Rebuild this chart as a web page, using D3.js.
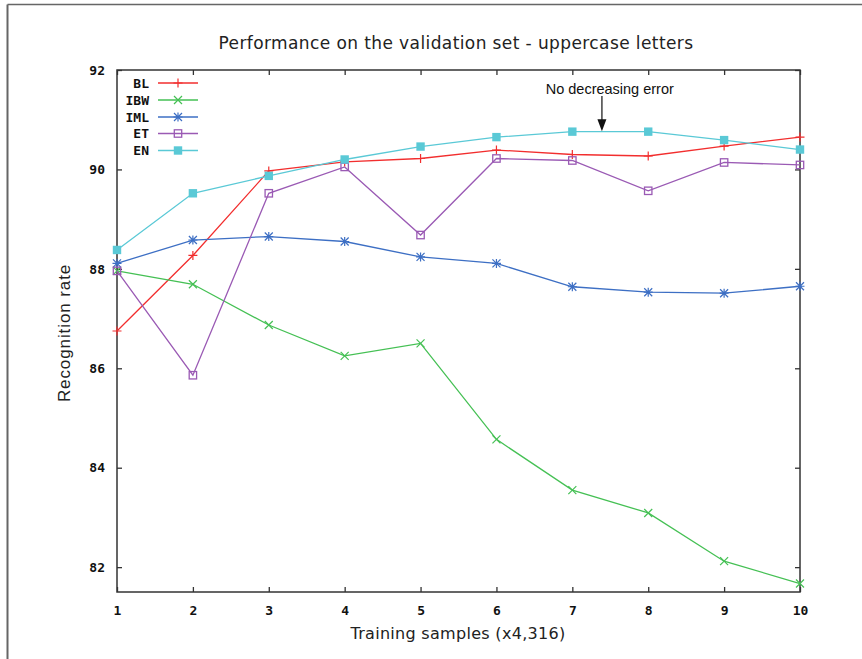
<!DOCTYPE html>
<html>
<head>
<meta charset="utf-8">
<script src="https://cdn.jsdelivr.net/npm/d3@7"></script>
<style>
  html, body { margin: 0; padding: 0; background: #fff; }
  svg { display: block; }
</style>
</head>
<body>
<div id="chart"></div>
<script>
// ---- data ----
const xValues = [1, 2, 3, 4, 5, 6, 7, 8, 9, 10];
const BL  = [86.75, 88.27, 89.97, 90.15, 90.22, 90.39, 90.30, 90.27, 90.47, 90.65];
const IBW = [87.96, 87.69, 86.87, 86.25, 86.50, 84.57, 83.55, 83.09, 82.12, 81.67];
const IML = [88.11, 88.58, 88.65, 88.55, 88.24, 88.11, 87.64, 87.53, 87.51, 87.65];
const ET  = [87.96, 85.86, 89.52, 90.05, 88.68, 90.22, 90.18, 89.57, 90.14, 90.09];
const EN  = [88.38, 89.52, 89.87, 90.20, 90.46, 90.65, 90.76, 90.76, 90.59, 90.40];
const seriesNames = ["BL", "IBW", "IML", "ET", "EN"];
const yTicks = [82, 84, 86, 88, 90, 92];
const xTicks = [1, 2, 3, 4, 5, 6, 7, 8, 9, 10];
const titleText = "Performance on the validation set - uppercase letters";
const xLabel = "Training samples (x4,316)";
const yLabel = "Recognition rate";
const noteText = "No decreasing error";
const notePoint = [7.39, 90.77];

// ---- layout ----
const W = 862, H = 659;
const M = { left: 117, right: 800, top: 70, bottom: 592 };
const colors = { BL: "#f22e2e", IBW: "#45c054", IML: "#3d6fc4", ET: "#9a5ab4", EN: "#5ac9d6" };
const markers = { BL: "plus", IBW: "cross", IML: "star", ET: "square", EN: "fsquare" };
const dataMap = { BL, IBW, IML, ET, EN };

const svg = d3.select("#chart").append("svg").attr("width", W).attr("height", H);

// outer frame (partial, as in the reference screenshot)
svg.append("line").attr("x1", 7.5).attr("x2", W).attr("y1", 4.5).attr("y2", 4.5)
  .attr("stroke", "#666").attr("stroke-width", 1.5);
svg.append("line").attr("x1", 7.5).attr("x2", 7.5).attr("y1", 4.5).attr("y2", H)
  .attr("stroke", "#666").attr("stroke-width", 2);

const x = d3.scaleLinear().domain([1, 10]).range([M.left, M.right]);
const y = d3.scaleLinear().domain([81.5, 92]).range([M.bottom, M.top]);

const axisColor = "#333";
const tickFont = "'DejaVu Sans Mono', monospace";

// axes with inward ticks
const gx = svg.append("g").attr("transform", `translate(0,${M.bottom})`)
  .call(d3.axisBottom(x).tickValues(xTicks).tickSize(-5).tickPadding(14).tickFormat(d3.format("d")));
const gxt = svg.append("g").attr("transform", `translate(0,${M.top})`)
  .call(d3.axisTop(x).tickValues(xTicks).tickSize(-5).tickFormat(""));
const gy = svg.append("g").attr("transform", `translate(${M.left},0)`)
  .call(d3.axisLeft(y).tickValues(yTicks).tickSize(-5).tickPadding(12).tickFormat(d3.format("d")));
const gyr = svg.append("g").attr("transform", `translate(${M.right},0)`)
  .call(d3.axisRight(y).tickValues(yTicks).tickSize(-5).tickFormat(""));

[gx, gxt, gy, gyr].forEach(g => {
  g.select(".domain").remove();
  g.selectAll(".tick line").attr("stroke", axisColor).attr("stroke-width", 1.3);
  g.selectAll(".tick text").attr("fill", "#111")
    .style("font-family", tickFont).style("font-weight", "bold").style("font-size", "13px");
});

// plot border
svg.append("rect").attr("x", M.left).attr("y", M.top)
  .attr("width", M.right - M.left).attr("height", M.bottom - M.top)
  .attr("fill", "none").attr("stroke", axisColor).attr("stroke-width", 1.5);

// marker drawing
function drawMarker(g, type, cx, cy, color) {
  const s = 4.5;
  if (type === "plus" || type === "star") {
    g.append("path").attr("d", `M${cx - s},${cy}H${cx + s}M${cx},${cy - s}V${cy + s}`)
      .attr("stroke", color).attr("stroke-width", 1.2).attr("fill", "none");
  }
  if (type === "cross" || type === "star") {
    const c = 4;
    g.append("path").attr("d", `M${cx - c},${cy - c}L${cx + c},${cy + c}M${cx - c},${cy + c}L${cx + c},${cy - c}`)
      .attr("stroke", color).attr("stroke-width", 1.2).attr("fill", "none");
  }
  if (type === "star") {
    g.append("circle").attr("cx", cx).attr("cy", cy).attr("r", 1.6).attr("fill", color);
  }
  if (type === "square") {
    g.append("rect").attr("x", cx - 3.7).attr("y", cy - 3.7).attr("width", 7.4).attr("height", 7.4)
      .attr("fill", "none").attr("stroke", color).attr("stroke-width", 1.3);
  }
  if (type === "fsquare") {
    g.append("rect").attr("x", cx - 4.2).attr("y", cy - 4.2).attr("width", 8.4).attr("height", 8.4)
      .attr("fill", color);
  }
}

const line = d3.line().x((d, i) => x(xValues[i])).y(d => y(d));

seriesNames.forEach(name => {
  const g = svg.append("g");
  g.append("path").datum(dataMap[name]).attr("d", line)
    .attr("fill", "none").attr("stroke", colors[name]).attr("stroke-width", 1.3);
  dataMap[name].forEach((v, i) => drawMarker(g, markers[name], x(xValues[i]), y(v), colors[name]));
});

// legend
const legRowY = [83, 100, 117, 133.5, 150.5];
seriesNames.forEach((name, i) => {
  const ly = legRowY[i];
  svg.append("text").attr("x", 149).attr("y", ly).attr("dy", "0.36em")
    .attr("text-anchor", "end").attr("fill", "#111")
    .style("font-family", tickFont).style("font-weight", "bold").style("font-size", "13px")
    .text(name);
  svg.append("line").attr("x1", 158).attr("x2", 198).attr("y1", ly).attr("y2", ly)
    .attr("stroke", colors[name]).attr("stroke-width", 1.3);
  drawMarker(svg, markers[name], 178, ly, colors[name]);
});

// annotation
const ax = x(notePoint[0]);
svg.append("text").attr("x", x(7.5) - 0.5).attr("y", 93.5).attr("text-anchor", "middle")
  .style("font-family", "'Liberation Sans', Arial, sans-serif").style("font-size", "14.5px")
  .attr("fill", "#111").text(noteText);
const tipY = y(notePoint[1]);
svg.append("line").attr("x1", ax).attr("x2", ax).attr("y1", 96).attr("y2", tipY - 10)
  .attr("stroke", "#111").attr("stroke-width", 1.2);
svg.append("path").attr("d", `M${ax - 4.5},${tipY - 12}L${ax + 4.5},${tipY - 12}L${ax},${tipY}Z`)
  .attr("fill", "#111");

// title & axis labels
const labelFont = "'DejaVu Sans', sans-serif";
svg.append("text").attr("x", 456).attr("y", 49).attr("text-anchor", "middle")
  .style("font-family", labelFont).style("font-size", "17px").style("letter-spacing", "0.4px")
  .attr("fill", "#222").text(titleText);
svg.append("text").attr("x", 458).attr("y", 639).attr("text-anchor", "middle")
  .style("font-family", labelFont).style("font-size", "16px").style("letter-spacing", "0.3px")
  .attr("fill", "#222").text(xLabel);
svg.append("text").attr("transform", `translate(70,${(M.top + M.bottom) / 2 + 2}) rotate(-90)`)
  .attr("text-anchor", "middle")
  .style("font-family", "'Liberation Sans', Arial, sans-serif").style("font-size", "17px")
  .style("letter-spacing", "0.9px")
  .attr("fill", "#222").text(yLabel);
</script>
</body>
</html>
